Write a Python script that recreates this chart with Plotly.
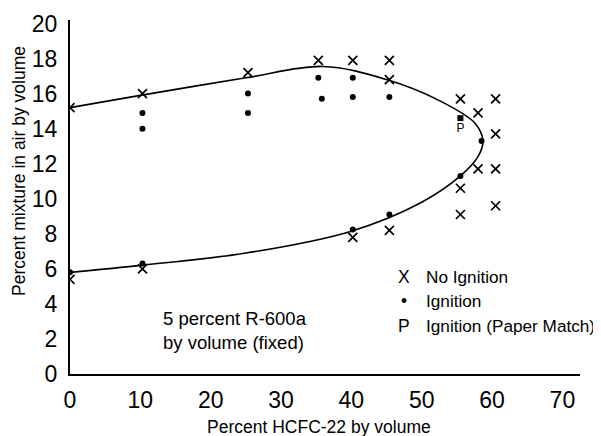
import plotly.graph_objects as go

# Boundary curve (flammability envelope)
curve_x = [0, 10, 25, 36, 45, 52.5, 57.6, 58.7, 58.0, 55.5, 50, 40, 25, 10, 0]
curve_y = [15.2, 15.9, 16.9, 17.55, 16.8, 15.6, 14.3, 13.3, 12.4, 11.3, 9.8, 8.15, 6.9, 6.2, 5.8]

# No ignition points (X)
noign_x = [0, 0, 10.3, 10.3, 25.3, 35.3, 40.2, 45.4, 45.4, 40.2, 45.4,
           55.5, 60.5, 58.0, 60.5, 58.0, 60.5, 55.5, 60.5, 55.5]
noign_y = [15.2, 5.4, 16.0, 6.0, 17.2, 17.9, 17.9, 17.9, 16.8, 7.8, 8.2,
           15.7, 15.7, 14.9, 13.7, 11.7, 11.7, 10.6, 9.6, 9.1]

# Ignition points (dots)
ign_x = [0, 10.3, 10.3, 10.3, 25.3, 25.3, 35.3, 35.8, 40.2, 40.2, 45.4, 40.2, 45.4, 58.5, 55.5]
ign_y = [5.8, 14.9, 14.0, 6.3, 16.0, 14.9, 16.9, 15.7, 16.9, 15.8, 15.8, 8.25, 9.1, 13.3, 11.3]

# Ignition (paper match)
paper_x = [55.5]
paper_y = [14.6]

x_ticks = [0, 10, 20, 30, 40, 50, 60, 70]
y_ticks = [0, 2, 4, 6, 8, 10, 12, 14, 16, 18, 20]

FONT = "Liberation Sans, Arial, Helvetica, sans-serif"

# page body has an 8px default margin; compensate so the plot area sits at x 70..580, y 20..374
OFF = 8
W, H = 601 - OFF, 436 - OFF
ML, MR, MT, MB = 70 - OFF, 21, 20 - OFF, 62
PW, PH = 510, 354


def px(xp):
    return (xp - 70) / PW


def py(yp):
    return (374 - yp) / PH


fig = go.Figure()
fig.add_trace(go.Scatter(x=curve_x, y=curve_y, mode="lines",
                         line=dict(color="black", width=1.6, shape="spline", smoothing=1.0),
                         hoverinfo="skip"))
fig.add_trace(go.Scatter(x=noign_x, y=noign_y, mode="markers",
                         marker=dict(symbol="x-thin", size=9, line=dict(color="black", width=1.7))))
fig.add_trace(go.Scatter(x=ign_x, y=ign_y, mode="markers",
                         marker=dict(symbol="circle", size=6, color="black")))
fig.add_trace(go.Scatter(x=paper_x, y=paper_y, mode="markers+text", text=["P"],
                         textposition="bottom center",
                         textfont=dict(family=FONT, size=12, color="black"),
                         marker=dict(symbol="square", size=6, color="black")))

ann = []
# axis titles
ann.append(dict(text="Percent HCFC-22 by volume", xref="paper", yref="paper",
                x=px(319), y=py(427), xanchor="center", yanchor="middle",
                showarrow=False, font=dict(family=FONT, size=17.5, color="black")))
ann.append(dict(text="Percent mixture in air by volume", xref="paper", yref="paper",
                x=px(19), y=py(171), xanchor="center", yanchor="middle",
                textangle=-90, showarrow=False, font=dict(family=FONT, size=17.5, color="black")))
# note
ann.append(dict(text="5 percent R-600a<br>by volume (fixed)", xref="paper", yref="paper",
                x=px(161), y=py(330), xanchor="left", yanchor="middle",
                align="left", showarrow=False, font=dict(family=FONT, size=18.5, color="black")))
# legend
leg_sym = ["X", "•", "P"]
leg_txt = ["No Ignition", "Ignition", "Ignition (Paper Match)"]
leg_y = [277, 301, 326]
for s, t, yy in zip(leg_sym, leg_txt, leg_y):
    ann.append(dict(text=s, xref="paper", yref="paper", x=px(404), y=py(yy),
                    xanchor="center", yanchor="middle", showarrow=False,
                    font=dict(family=FONT, size=17.5, color="black")))
    ann.append(dict(text=t, xref="paper", yref="paper", x=px(424), y=py(yy),
                    xanchor="left", yanchor="middle", showarrow=False,
                    font=dict(family=FONT, size=17.2, color="black")))

fig.update_layout(
    width=W, height=H,
    margin=dict(l=ML, r=MR, t=MT, b=MB, autoexpand=False),
    paper_bgcolor="white", plot_bgcolor="white",
    showlegend=False,
    annotations=ann,
    font=dict(family=FONT, color="black"),
)
fig.update_xaxes(range=[0, 72.5], tickvals=x_ticks, ticktext=[str(v) for v in x_ticks],
                 automargin=False,
                 showline=True, linecolor="black", linewidth=2, showgrid=False, zeroline=False,
                 ticks="", ticklabelstandoff=4, tickfont=dict(family=FONT, size=23, color="black"))
fig.update_yaxes(range=[0, 20.2], tickvals=y_ticks, ticktext=[str(v) for v in y_ticks],
                 automargin=False,
                 showline=True, linecolor="black", linewidth=2, showgrid=False, zeroline=False,
                 ticks="", ticklabelstandoff=6, tickfont=dict(family=FONT, size=23, color="black"))

fig.write_html("out.html")
